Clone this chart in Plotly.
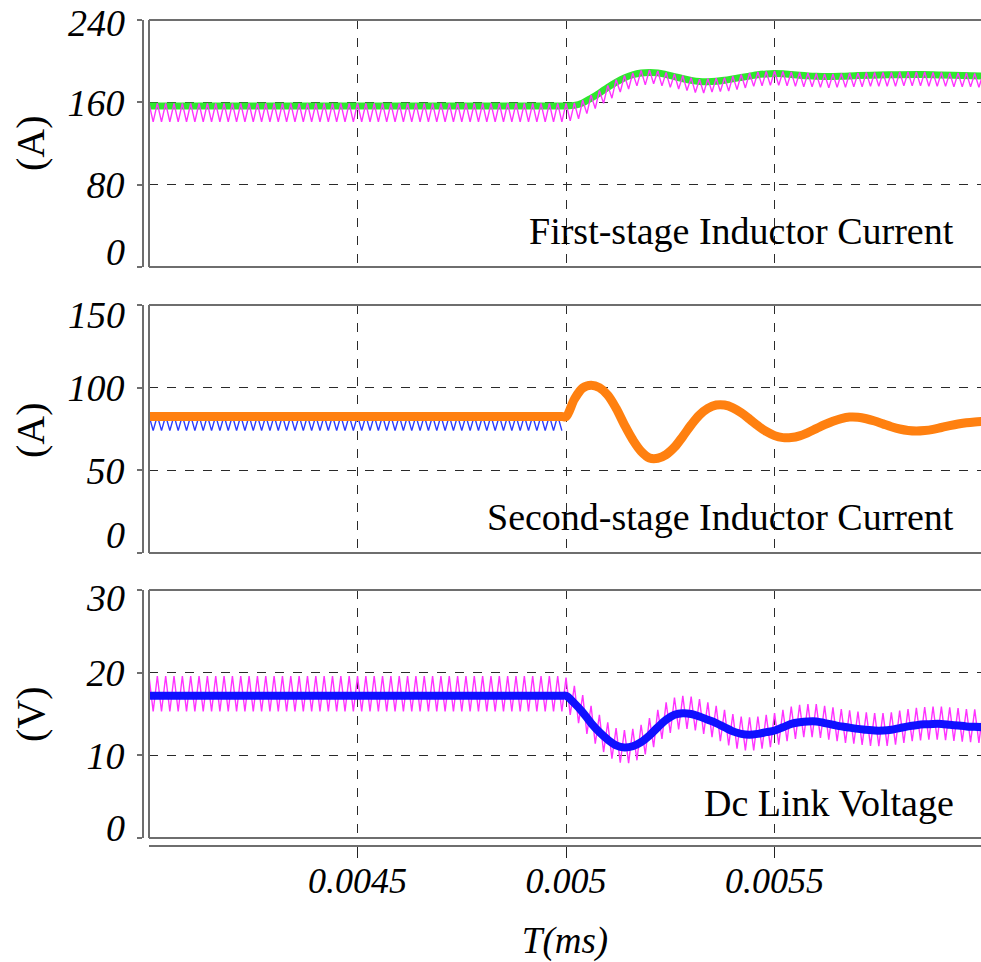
import numpy as np
import plotly.graph_objects as go

# ---------------- data ----------------
# sampling instants of the switching ripple (half switching period = 10 us)
t_ripple = np.round(0.004 + 1e-5 * np.arange(201), 8)   # 0.004 ... 0.006

# First-stage inductor current
top_mean_t = [0.004, 0.0045, 0.00499, 0.005, 0.00502, 0.00504, 0.00506, 0.00508, 0.0051, 0.00512,
              0.00514, 0.00516, 0.00518, 0.0052, 0.00522, 0.00524, 0.00526, 0.00528, 0.0053,
              0.00532, 0.00534, 0.00536, 0.00538, 0.0054, 0.00542, 0.00544, 0.00546, 0.00548,
              0.0055, 0.00552, 0.00554, 0.00556, 0.00558, 0.0056, 0.00563, 0.00566, 0.0057,
              0.00575, 0.0058, 0.00585, 0.0059, 0.00595, 0.006]
top_mean_v = [156.5, 156.5, 156.5, 156.5, 157, 159.5, 164, 169, 174.5, 179.5,
              183.8, 186.8, 188.5, 189, 188.6, 187, 185, 183, 181.3,
              180.2, 180, 180.5, 181.5, 182.8, 184.2, 185.5, 186.8, 187.6,
              188, 187.7, 187, 186.3, 185.7, 185.3, 185, 185.3, 186,
              186.6, 186.9, 187, 186.6, 186, 185.5]
top_ripple_pre = [159, 141] * 50          # steady state before the step
top_ripple_post = [159, 142, 159.5, 144, 162, 149, 167, 154, 171.5, 159, 176.5, 164, 182, 170,
                   186, 173, 188.5, 176, 191, 177, 191.5, 178, 190.5, 176, 189, 174.5, 187.5, 173,
                   186, 171.5, 184, 169.5, 182.5, 169, 183, 170, 183.5, 170.5, 184, 171, 185.5, 172.5,
                   187, 174, 188.5, 175.5, 189.5, 176, 190, 176.5, 190.5, 176.5, 190, 176, 189.5, 175.5,
                   189, 175, 188.5, 175, 188, 174.5, 187.5, 174, 187.5, 174.5, 188, 174.5, 188.5, 175,
                   188.5, 175, 189, 175.5, 189, 175.5, 189, 175.5, 189, 175.5, 189.5, 176, 189.5, 176,
                   189.5, 176, 189.5, 175.5, 189, 175.5, 189, 175.5, 188.5, 175, 188.5, 175, 188.5, 175,
                   188, 174.5, 188]

# Second-stage inductor current
mid_mean_t = [0.004, 0.0045, 0.00499, 0.005, 0.00502, 0.00504, 0.00506, 0.00508, 0.0051, 0.00512,
              0.00514, 0.00516, 0.00518, 0.0052, 0.00522, 0.00524, 0.00526, 0.00528, 0.0053,
              0.00532, 0.00534, 0.00536, 0.00538, 0.0054, 0.00542, 0.00544, 0.00546, 0.00548,
              0.0055, 0.00552, 0.00554, 0.00556, 0.00558, 0.0056, 0.00562, 0.00564, 0.00566,
              0.00568, 0.0057, 0.00572, 0.00574, 0.00576, 0.00578, 0.0058, 0.00582, 0.00584,
              0.00586, 0.00588, 0.0059, 0.00592, 0.00594, 0.00596, 0.00598, 0.006]
mid_mean_v = [82.5, 82.5, 82.5, 82.5, 93, 99.8, 101.5, 100, 95.5, 87.5,
              77.5, 68.5, 61.5, 57.5, 57.3, 59.5, 64, 70.5, 77.5,
              83.5, 87.5, 89.5, 89.5, 87.8, 84.8, 81, 77, 73.5,
              71, 69.8, 69.8, 70.8, 72.8, 75.2, 77.6, 79.7, 81.3,
              82.2, 82.1, 81.2, 79.8, 78.1, 76.4, 75, 74.1, 73.8,
              74.1, 74.8, 75.9, 77, 78, 78.8, 79.3, 79.6]
mid_ripple_pre = [83, 74] * 50

# Dc link voltage
bot_mean_t = [0.004, 0.0045, 0.00499, 0.005, 0.00502, 0.00504, 0.00506, 0.00508, 0.0051, 0.00512,
              0.00514, 0.00516, 0.00518, 0.0052, 0.00522, 0.00524, 0.00526, 0.00528, 0.0053,
              0.00532, 0.00534, 0.00536, 0.00538, 0.0054, 0.00542, 0.00544, 0.00546, 0.00548,
              0.0055, 0.00552, 0.00554, 0.00556, 0.00558, 0.0056, 0.00562, 0.00564, 0.00566,
              0.00568, 0.0057, 0.00572, 0.00574, 0.00576, 0.00578, 0.0058, 0.00582, 0.00584,
              0.00586, 0.00588, 0.0059, 0.00592, 0.00594, 0.00596, 0.00598, 0.006]
bot_mean_v = [17.2, 17.2, 17.2, 17.2, 16.3, 15.2, 13.9, 12.8, 11.9, 11.2,
              10.95, 11.1, 11.6, 12.4, 13.4, 14.3, 14.9, 15.1, 15.0,
              14.7, 14.3, 13.9, 13.4, 12.9, 12.6, 12.5, 12.6, 12.8,
              13.0, 13.4, 13.8, 14.0, 14.1, 14.1, 13.9, 13.7, 13.5,
              13.35, 13.2, 13.1, 13.0, 13.0, 13.1, 13.3, 13.5, 13.65,
              13.75, 13.8, 13.8, 13.7, 13.6, 13.5, 13.45, 13.4]
bot_ripple_pre = [19.6, 15.3] * 50
bot_ripple_post = [19.4, 14.9, 18.4, 13.9, 17.3, 12.6, 16.0, 11.4, 14.9, 10.4, 14.0, 9.6, 13.3, 9.1,
                   13.05, 9.05, 13.2, 9.4, 13.7, 10.1, 14.5, 11.0, 15.5, 12.0, 16.4, 12.7, 17.0, 13.15,
                   17.2, 13.2, 17.1, 13.0, 16.8, 12.6, 16.4, 12.2, 16.0, 11.7, 15.5, 11.2, 15.0, 10.8,
                   14.7, 10.6, 14.6, 10.6, 14.7, 10.8, 14.9, 11.0, 15.1, 11.3, 15.5, 11.7, 15.9, 12.0,
                   16.1, 12.2, 16.2, 12.2, 16.2, 12.1, 16.0, 11.9, 15.8, 11.7, 15.6, 11.5, 15.45, 11.4,
                   15.3, 11.25, 15.2, 11.15, 15.1, 11.1, 15.1, 11.15, 15.2, 11.3, 15.4, 11.5, 15.6, 11.7,
                   15.75, 11.8, 15.85, 11.9, 15.9, 11.9, 15.9, 11.85, 15.8, 11.75, 15.7, 11.65, 15.6, 11.6,
                   15.55, 11.5, 15.5]

x_tickvals = [0.0045, 0.005, 0.0055]
x_ticktext = ["0.0045", "0.005", "0.0055"]
top_ticks = [0, 80, 160, 240]
mid_ticks = [0, 50, 100, 150]
bot_ticks = [0, 10, 20, 30]
panel_titles = ["First-stage Inductor Current", "Second-stage Inductor Current", "Dc Link Voltage"]
unit_labels = ["(A)", "(A)", "(V)"]

# ---------------- figure ----------------
W, H = 981, 962
ML = 143
FONT = "Liberation Serif, Times New Roman, serif"
GRID = "#2a2a2a"
DASH = "dash"
FRAME = "#6e6e6e"
TICKFONT = dict(size=38, style="italic", family=FONT, color="black")

fig = go.Figure()

# top panel
fig.add_trace(go.Scatter(x=top_mean_t, y=top_mean_v, mode="lines", line_shape="spline",
                         line=dict(color="#2ee82e", width=7), xaxis="x", yaxis="y"))
fig.add_trace(go.Scatter(x=t_ripple, y=top_ripple_pre + top_ripple_post, mode="lines",
                         line=dict(color="#ff33ff", width=1.4), xaxis="x", yaxis="y"))
# middle panel
fig.add_trace(go.Scatter(x=t_ripple[:100], y=mid_ripple_pre, mode="lines",
                         line=dict(color="#2b3bff", width=1.4), xaxis="x2", yaxis="y2"))
fig.add_trace(go.Scatter(x=mid_mean_t, y=mid_mean_v, mode="lines", line_shape="spline",
                         line=dict(color="#ff8010", width=9), xaxis="x2", yaxis="y2"))
# bottom panel
fig.add_trace(go.Scatter(x=t_ripple, y=bot_ripple_pre + bot_ripple_post, mode="lines",
                         line=dict(color="#ff33ff", width=1.4), xaxis="x3", yaxis="y3"))
fig.add_trace(go.Scatter(x=bot_mean_t, y=bot_mean_v, mode="lines", line_shape="spline",
                         line=dict(color="#1010ff", width=8), xaxis="x3", yaxis="y3"))

xdom = [6 / (W - ML), 1]
xrange_ = [0.004, 0.005995]
domains = [[1 - 267 / H, 1 - 20 / H], [1 - 553 / H, 1 - 305 / H], [1 - 838 / H, 1 - 590 / H]]
ranges = [[0, 240], [0, 150], [0, 30]]
ticks = [top_ticks, mid_ticks, bot_ticks]
# edge labels are nudged inward (as in the reference); shifts in px (positive = up)
edge_shift = [(15, -3), (18, -10), (10, -8)]

common_x = dict(domain=xdom, range=xrange_, showgrid=True, gridcolor=GRID, griddash=DASH,
                gridwidth=1.3, zeroline=False, tickvals=x_tickvals, automargin=False)
layout = dict(width=W, height=H, margin=dict(l=ML, r=0, t=0, b=0, autoexpand=False),
              plot_bgcolor="white", paper_bgcolor="white", showlegend=False,
              font=dict(family=FONT, color="black"))

layout["xaxis"] = dict(common_x, anchor="y", showticklabels=False, ticks="")
layout["xaxis2"] = dict(common_x, anchor="y2", matches="x", showticklabels=False, ticks="")
layout["xaxis3"] = dict(common_x, anchor="free", position=1 - 846 / H, matches="x",
                        ticktext=x_ticktext, showline=True, linecolor=FRAME, linewidth=2,
                        ticks="outside", ticklen=11, tickcolor="#222", tickwidth=1,
                        tickfont=dict(size=36, style="italic", family=FONT),
                        ticklabelstandoff=-8, ticklabeloverflow="allow",
                        title=dict(text="T(ms)", font=dict(size=37, style="italic", family=FONT),
                                   standoff=26))

shapes = []
annotations = []
for i, key in enumerate(["yaxis", "yaxis2", "yaxis3"]):
    tv = ticks[i]
    layout[key] = dict(domain=domains[i], range=ranges[i], tickvals=tv,
                       ticktext=[""] + [str(v) for v in tv[1:-1]] + [""],
                       anchor="free", position=0, showline=True, linecolor=FRAME, linewidth=2,
                       ticks="outside", ticklen=5, tickcolor=FRAME, tickwidth=2,
                       showgrid=True, gridcolor=GRID, griddash=DASH, gridwidth=1.3,
                       zeroline=False, ticklabelstandoff=5, automargin=False,
                       ticklabeloverflow="allow", tickfont=TICKFONT)
    yname = "y" if i == 0 else "y%d" % (i + 1)
    for v, sh in zip([tv[0], tv[-1]], edge_shift[i]):
        annotations.append(dict(text=str(v), xref="paper", yref=yname,
                                x=(127 - ML) / (W - ML), y=v, yshift=sh,
                                xanchor="right", yanchor="middle", showarrow=False,
                                font=TICKFONT))

for i, (xs, ys) in enumerate([("x", "y"), ("x2", "y2"), ("x3", "y3")]):
    xr, yr = xs + " domain", ys + " domain"
    for (x0, y0, x1, y1) in [(0, 1, 1, 1), (0, 0, 0, 1), (0, 0, 1, 0)]:
        shapes.append(dict(type="line", xref=xr, yref=yr, x0=x0, y0=y0, x1=x1, y1=y1,
                           line=dict(color=FRAME, width=2), layer="above"))
    annotations.append(dict(text=panel_titles[i], xref="paper", yref="paper",
                            x=(956 - ML) / (W - ML), y=1 - [231, 517, 803][i] / H,
                            xanchor="right", yanchor="middle", showarrow=False,
                            font=dict(size=38, family=FONT, color="black")))
    annotations.append(dict(text=unit_labels[i], xref="paper", yref="paper",
                            x=(30 - ML) / (W - ML), y=1 - [143, 430, 714][i] / H,
                            xanchor="center", yanchor="middle", showarrow=False, textangle=-90,
                            font=dict(size=40, family=FONT, color="black")))
layout["shapes"] = shapes
layout["annotations"] = annotations

fig.update_layout(**layout)
fig.write_html("out.html")
